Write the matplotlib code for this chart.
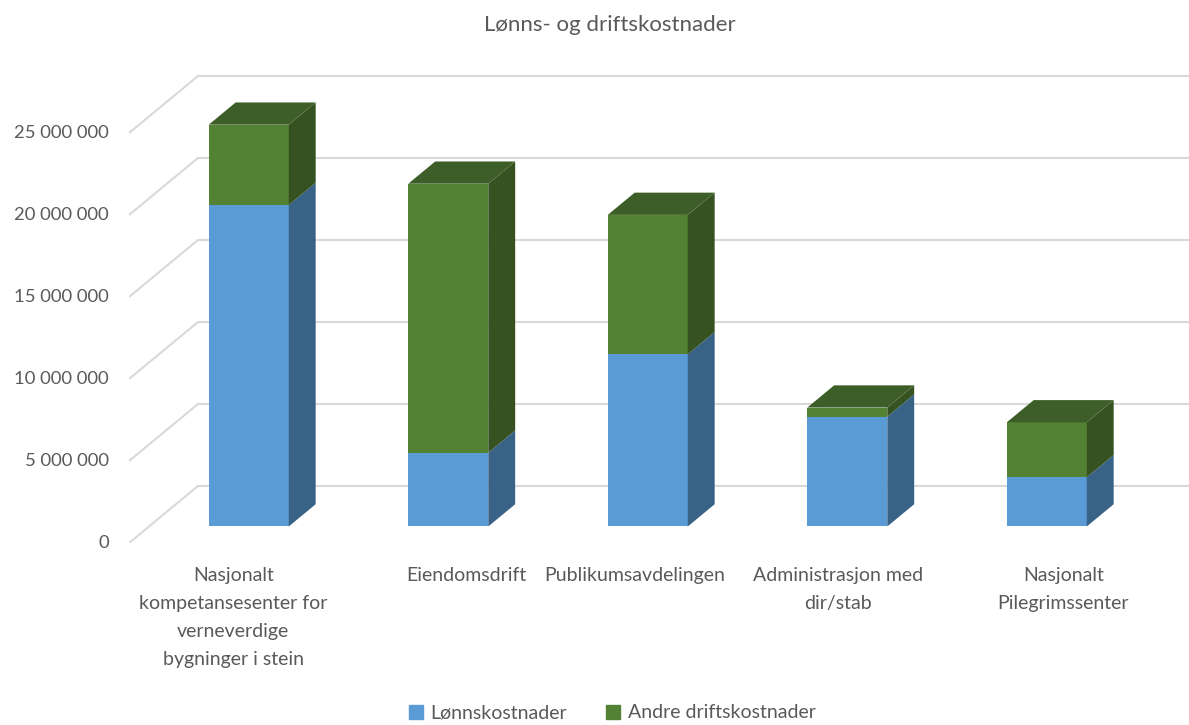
import numpy as np
import matplotlib.pyplot as plt
from matplotlib.patches import Polygon

# data
categories = ["Nasjonalt\nkompetansesenter for\nverneverdige\nbygninger i stein",
              "Eiendomsdrift", "Publikumsavdelingen",
              "Administrasjon med\ndir/stab", "Nasjonalt\nPilegrimssenter"]
lonn = [19.6e6, 4.5e6, 10.5e6, 6.7e6, 3.0e6]
andre = [4.9e6, 16.4e6, 8.5e6, 0.55e6, 3.35e6]
series_names = ["Lønnskostnader", "Andre driftskostnader"]
yticks = [0, 5e6, 10e6, 15e6, 20e6, 25e6]

# colours: front, side, top
blue = ("#5B9BD5", "#386387", "#4a80b2")
green = ("#548235", "#365221", "#3d5e28")
grid_col = "#D9D9D9"
text_col = "#595959"

plt.rcParams['font.family'] = ['Lato', 'DejaVu Sans']

W, H = 1189, 725
fig = plt.figure(figsize=(W / 100, H / 100), dpi=100)

# pixel geometry of the oblique projection
px_cat = 199.5           # pixels per category
px_val = 16.4 / 1e6      # pixels per unit value
x0_px, y0_px = 129, 543  # front-left floor corner
DX = 69 / px_cat         # full floor depth, in data units
DY = 57 / px_val
d0, dep = 0.29, 0.39     # bar front depth and bar depth (fraction of floor)
bw = 80 / px_cat

left = x0_px / W
bottom = (H - y0_px) / H
top_px = 55
ax = fig.add_axes([left, bottom, 1 - left, (y0_px - top_px) / H])
ax.set_xlim(-0.5, -0.5 + (W - x0_px) / px_cat)
ax.set_ylim(0, (y0_px - top_px) / px_val)
ax.axis('off')

# grid: side diagonals + back wall lines
for v in yticks:
    ax.plot([-0.5, -0.5 + DX], [v, v + DY], color=grid_col, lw=1.5, zorder=1,
            solid_capstyle='butt')
    ax.plot([-0.5 + DX, 10], [v + DY, v + DY], color=grid_col, lw=1.5, zorder=1)
    ax.text(-0.5 - 20 / px_cat, v, f"{int(v):,}".replace(",", " "),
            ha='right', va='center', fontsize=13.3, color=text_col, clip_on=False)

x = np.arange(len(categories))
xf = x + d0 * DX
lift = d0 * DY
base = np.zeros(len(categories))
for vals, cols in [(lonn, blue), (andre, green)]:
    vals = np.array(vals)
    ax.bar(xf, vals, width=bw, bottom=base + lift, color=cols[0], zorder=3,
           linewidth=0)
    for xi, b, v in zip(xf, base, vals):
        xr = xi + bw / 2
        b0, t0 = b + lift, b + v + lift
        side = [(xr, b0), (xr + dep * DX, b0 + dep * DY),
                (xr + dep * DX, t0 + dep * DY), (xr, t0)]
        ax.add_patch(Polygon(side, closed=True, fc=cols[1], ec='none', zorder=3))
    base = base + vals

# top faces
for xi, t in zip(xf, base):
    t0 = t + lift
    xl, xr = xi - bw / 2, xi + bw / 2
    topf = [(xl, t0), (xr, t0), (xr + dep * DX, t0 + dep * DY),
            (xl + dep * DX, t0 + dep * DY)]
    ax.add_patch(Polygon(topf, closed=True, fc=green[2], ec='none', zorder=4))

# category labels (shifted where Excel nudged them)
label_shift = [-0.15, 0.02, -0.14, -0.12, 0.01]
for xi, s, lab in zip(x + 0.5 * DX, label_shift, categories):
    ax.text(xi + s, -24 / px_val, lab, ha='center', va='top', fontsize=14,
            color=text_col, linespacing=1.78, clip_on=False)

fig.text(0.513, 1 - 25 / H, "Lønns- og driftskostnader", ha='center',
         va='center', fontsize=16, color=text_col)

# legend
handles = [plt.Rectangle((0, 0), 1, 1, color=blue[0]),
           plt.Rectangle((0, 0), 1, 1, color=green[0])]
fig.legend(handles, series_names, loc='center', bbox_to_anchor=(0.515, 1 - 713 / H),
           ncol=2, frameon=False, fontsize=14, handlelength=0.7, handleheight=0.7,
           handletextpad=0.4, columnspacing=2.0, labelcolor=text_col)

fig.savefig("out.png", dpi=100)
